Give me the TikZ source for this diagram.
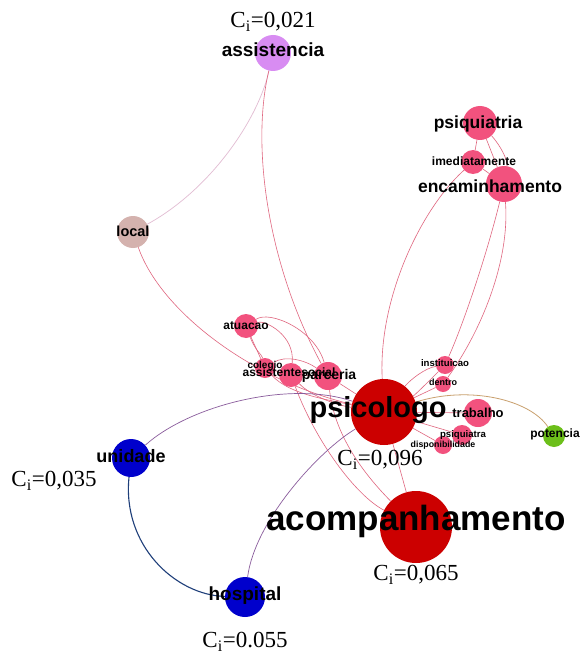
\documentclass[tikz,border=0pt]{standalone}
\usepackage{fontspec}
\setmainfont{Liberation Serif}
\newfontfamily\labfont{Liberation Sans}
\newcommand\lsz[1]{\fontsize{#1}{#1}\selectfont\labfont\bfseries}
\pgfdeclarelayer{bg}
\pgfsetlayers{bg,main}
\definecolor{pk}{HTML}{F2527E}
\definecolor{rd}{HTML}{CC0000}
\definecolor{vi}{HTML}{D88CF2}
\definecolor{lc}{HTML}{D4B2AE}
\definecolor{bl}{HTML}{0000CC}
\definecolor{gr}{HTML}{6CBF1A}
\definecolor{edpk}{HTML}{E0667F}
\definecolor{edlv}{HTML}{E2BCD2}
\definecolor{edpu}{HTML}{8A5C9C}
\definecolor{edtn}{HTML}{C9A06E}
\definecolor{eddb}{HTML}{1F3F7A}
\begin{document}
\begin{tikzpicture}[x=1pt,y=-1pt,
  vert/.style={circle,inner sep=0pt,draw=none},
  lbl/.style={inner sep=0pt,text=black},
  ci/.style={inner sep=0pt,font=\fontsize{23}{23}\selectfont},
  ed/.style={draw=edpk,line width=0.6pt},
  edl/.style={draw=edlv,line width=0.7pt},
  edu/.style={draw=edpu,line width=0.7pt},
  edt/.style={draw=edtn,line width=0.8pt},
  edb/.style={draw=eddb,line width=1.1pt}]
\useasboundingbox (0,0) rectangle (579,655);
% vertices
\node[vert,fill=vi,minimum size=36pt] (assistencia) at (273,53) {};
\node[vert,fill=pk,minimum size=34pt] (psiquiatria) at (480,123) {};
\node[vert,fill=pk,minimum size=24pt] (imediatamente) at (473,162) {};
\node[vert,fill=pk,minimum size=36pt] (encaminhamento) at (504,184) {};
\node[vert,fill=lc,minimum size=32pt] (local) at (133,232) {};
\node[vert,fill=pk,minimum size=24pt] (atuacao) at (246,326) {};
\node[vert,fill=pk,minimum size=20pt] (colegio) at (265,368) {};
\node[vert,fill=pk,minimum size=24pt] (assistentesocial) at (291,375) {};
\node[vert,fill=pk,minimum size=28pt] (parceria) at (328,376) {};
\node[vert,fill=rd,minimum size=66pt] (psicologo) at (384,412) {};
\node[vert,fill=pk,minimum size=18pt] (instituicao) at (445,365) {};
\node[vert,fill=pk,minimum size=16pt] (dentro) at (443,384) {};
\node[vert,fill=pk,minimum size=28pt] (trabalho) at (478,413) {};
\node[vert,fill=pk,minimum size=20pt] (psiquiatra) at (462,435) {};
\node[vert,fill=pk,minimum size=18pt] (disponibilidade) at (443,445) {};
\node[vert,fill=gr,minimum size=22pt] (potencia) at (554,436) {};
\node[vert,fill=bl,minimum size=38pt] (unidade) at (131,458) {};
\node[vert,fill=bl,minimum size=40pt] (hospital) at (245,597) {};
\node[vert,fill=rd,minimum size=72pt] (acompanhamento) at (416,527) {};
% edges
\begin{pgfonlayer}{bg}
\fill[white] (0,0) rectangle (579,655);
\draw[edl] (assistencia) .. controls (258,120) and (210,190) .. (local);
\draw[ed] (assistencia) .. controls (250,150) and (270,270) .. (parceria);
\draw[ed] (local) .. controls (160,310) and (250,380) .. (psicologo);
\draw[ed] (imediatamente) .. controls (420,210) and (378,300) .. (psicologo);
\draw[ed] (encaminhamento) .. controls (488,250) and (465,320) .. (instituicao);
\draw[ed] (encaminhamento) .. controls (510,260) and (482,330) .. (dentro);
\draw[ed] (psiquiatria) -- (encaminhamento);
\draw[ed] (psiquiatria) .. controls (500,145) and (508,160) .. (encaminhamento);
\draw[ed] (psiquiatria) -- (imediatamente);
\draw[ed] (imediatamente) -- (encaminhamento);
\draw[ed] (atuacao) -- (colegio);
\draw[ed] (atuacao) .. controls (255,350) and (262,355) .. (colegio);
\draw[ed] (atuacao) .. controls (265,320) and (295,335) .. (assistentesocial);
\draw[ed] (atuacao) .. controls (270,310) and (315,330) .. (parceria);
\draw[ed] (colegio) -- (assistentesocial);
\draw[ed] (colegio) .. controls (290,395) and (330,400) .. (psicologo);
\draw[ed] (colegio) .. controls (285,355) and (305,360) .. (parceria);
\draw[ed] (assistentesocial) -- (parceria);
\draw[ed] (assistentesocial) .. controls (310,395) and (335,405) .. (psicologo);
\draw[ed] (parceria) -- (psicologo);
\draw[ed] (parceria) .. controls (335,440) and (370,480) .. (acompanhamento);
\draw[ed] (assistentesocial) .. controls (315,440) and (355,495) .. (acompanhamento);
\draw[ed] (psicologo) -- (acompanhamento);
\draw[ed] (psicologo) .. controls (410,380) and (425,368) .. (instituicao);
\draw[ed] (psicologo) .. controls (415,395) and (430,380) .. (instituicao);
\draw[ed] (psicologo) -- (dentro);
\draw[ed] (psicologo) -- (trabalho);
\draw[ed] (psicologo) -- (psiquiatra);
\draw[ed] (psicologo) -- (disponibilidade);
\draw[edt] (psicologo) .. controls (470,385) and (530,400) .. (potencia);
\draw[edu] (unidade) .. controls (190,405) and (290,380) .. (psicologo);
\draw[edu] (hospital) .. controls (255,520) and (320,450) .. (psicologo);
\draw[edb] (unidade) .. controls (122,545) and (175,595) .. (hospital);
\end{pgfonlayer}
% labels
\node[lbl] (t-assistencia) at (273,50) {\lsz{19}assistencia};
\node[lbl] (t-psiquiatria) at (478,124) {\lsz{17.5}psiquiatria};
\node[lbl] (t-imediatamente) at (474,161) {\lsz{12}imediatamente};
\node[lbl] (t-encaminhamento) at (490,186) {\lsz{17.5}encaminhamento};
\node[lbl] (t-local) at (133,231) {\lsz{14.5}local};
\node[lbl] (t-atuacao) at (246,326) {\lsz{12}atuacao};
\node[lbl] (t-colegio) at (265,366) {\lsz{10}colegio};
\node[lbl] (t-assistentesocial) at (289,372) {\lsz{12}assistentesocial};
\node[lbl] (t-parceria) at (329,376) {\lsz{14}parceria};
\node[lbl] (t-psicologo) at (378,410) {\lsz{29}psicologo};
\node[lbl] (t-instituicao) at (445,363) {\lsz{9.6}instituicao};
\node[lbl] (t-dentro) at (443,382) {\lsz{9}dentro};
\node[lbl] (t-trabalho) at (478,413) {\lsz{13}trabalho};
\node[lbl] (t-psiquiatra) at (463,435) {\lsz{9.6}psiquiatra};
\node[lbl] (t-disponibilidade) at (443,445) {\lsz{8.8}disponibilidade};
\node[lbl] (t-potencia) at (555,434) {\lsz{12}potencia};
\node[lbl] (t-unidade) at (131,456) {\lsz{18}unidade};
\node[lbl] (t-hospital) at (245,596) {\lsz{19}hospital};
\node[lbl] (t-acompanhamento) at (416,521) {\lsz{35}acompanhamento};
% centrality labels
\node[ci] (c-assistencia) at (273,22) {C\textsubscript{i}=0,021};
\node[ci] (c-psicologo) at (380,460) {C\textsubscript{i}=0,096};
\node[ci] (c-acompanhamento) at (416,575) {C\textsubscript{i}=0,065};
\node[ci] (c-unidade) at (54,481) {C\textsubscript{i}=0,035};
\node[ci] (c-hospital) at (245,642) {C\textsubscript{i}=0.055};
\end{tikzpicture}
\end{document}
